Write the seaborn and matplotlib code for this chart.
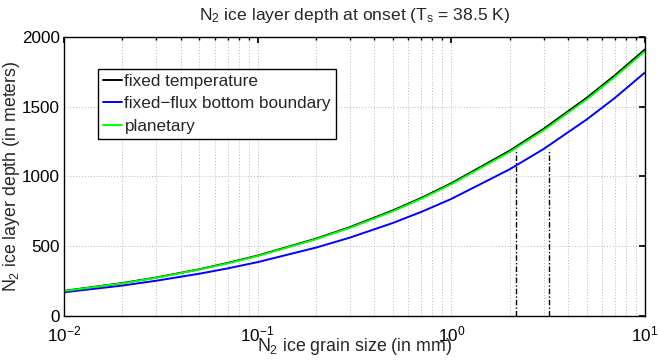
import numpy as np
import pandas as pd
import matplotlib
matplotlib.use("Agg")
import matplotlib.pyplot as plt
import seaborn as sns
from matplotlib.ticker import LogLocator, NullFormatter

grain_mm = [0.01, 0.02, 0.03, 0.05, 0.07, 0.1, 0.2, 0.3, 0.5, 0.7, 1, 2, 3, 5, 7, 10]
depth_fixed_temp = [180, 236, 276, 335, 380, 433, 554, 637, 757, 846, 951, 1184, 1341, 1563, 1725, 1910]
depth_fixed_flux = [170, 218, 253, 303, 341, 386, 490, 562, 667, 746, 839, 1051, 1197, 1408, 1563, 1745]
depth_planetary = [179, 234, 274, 333, 377, 430, 550, 632, 751, 840, 944, 1175, 1331, 1552, 1713, 1897]
series_names = ["fixed temperature", "fixed\u2212flux bottom boundary", "planetary"]
series_colors = ["#000000", "#0000ff", "#00ff00"]
marker_x = [2.15, 3.2]
marker_top = [1200, 1200]

sns.set_theme(style="white")
plt.rcParams["font.family"] = ["Liberation Sans", "DejaVu Sans"]
plt.rcParams["mathtext.fontset"] = "custom"
plt.rcParams["mathtext.rm"] = "Liberation Sans"
plt.rcParams["mathtext.it"] = "Liberation Sans"
plt.rcParams["mathtext.default"] = "regular"

df = pd.DataFrame({
    "grain": grain_mm * 3,
    "depth": depth_fixed_temp + depth_fixed_flux + depth_planetary,
    "model": [series_names[0]] * len(grain_mm) + [series_names[1]] * len(grain_mm) + [series_names[2]] * len(grain_mm),
})

fig = plt.figure(figsize=(6.58, 3.61), dpi=100)
ax = fig.add_axes([0.0973, 0.1247, 0.8827, 0.7728])

sns.lineplot(data=df, x="grain", y="depth", hue="model", hue_order=series_names,
             palette=series_colors, linewidth=1.4, ax=ax, sort=False)

for xv, yt in zip(marker_x, marker_top):
    ax.plot([xv, xv], [0, yt], color="black", linestyle=(0, (4, 1.5, 1, 1.5)), linewidth=1.0)

ax.set_xscale("log")
ax.set_xlim(0.01, 10)
ax.set_ylim(0, 2000)
ax.set_yticks([0, 500, 1000, 1500, 2000])
ax.xaxis.set_major_locator(LogLocator(base=10, numticks=10))
ax.xaxis.set_minor_locator(LogLocator(base=10, subs=np.arange(2, 10), numticks=100))
ax.xaxis.set_minor_formatter(NullFormatter())

ax.grid(True, which="major", axis="both", linestyle=(0, (1, 2)), color="#b8b8b8", linewidth=0.7)
ax.grid(True, which="minor", axis="x", linestyle=(0, (1, 2)), color="#b8b8b8", linewidth=0.7)

ax.tick_params(axis="both", which="both", direction="in", top=True, right=True,
               labelsize=12.3, colors="black", length=4)
ax.tick_params(axis="x", which="minor", length=2)
ax.tick_params(axis="x", which="major", pad=6)
ax.tick_params(axis="y", which="major", pad=3)
for s in ax.spines.values():
    s.set_color("black")
    s.set_linewidth(1.0)

ax.set_title("N$_2$ ice layer depth at onset (T$_s$ = 38.5 K)", fontsize=12.6, pad=12)
ax.set_xlabel("N$_2$ ice grain size (in mm)", fontsize=12.8, labelpad=-6)
ax.set_ylabel("N$_2$ ice layer depth (in meters)", fontsize=12.8)
ax.yaxis.set_label_coords(-0.072, 0.5)

leg = ax.legend(loc="upper left", bbox_to_anchor=(0.0585, 0.885), fontsize=12.3,
                frameon=True, fancybox=False, handlelength=1.1, handletextpad=0.15,
                borderpad=0.3, labelspacing=0.42, borderaxespad=0)
leg.get_frame().set_edgecolor("black")
leg.get_frame().set_linewidth(1.0)
leg.get_frame().set_alpha(1)
for line in leg.get_lines():
    line.set_linewidth(1.4)

fig.savefig("out.png", dpi=100)
